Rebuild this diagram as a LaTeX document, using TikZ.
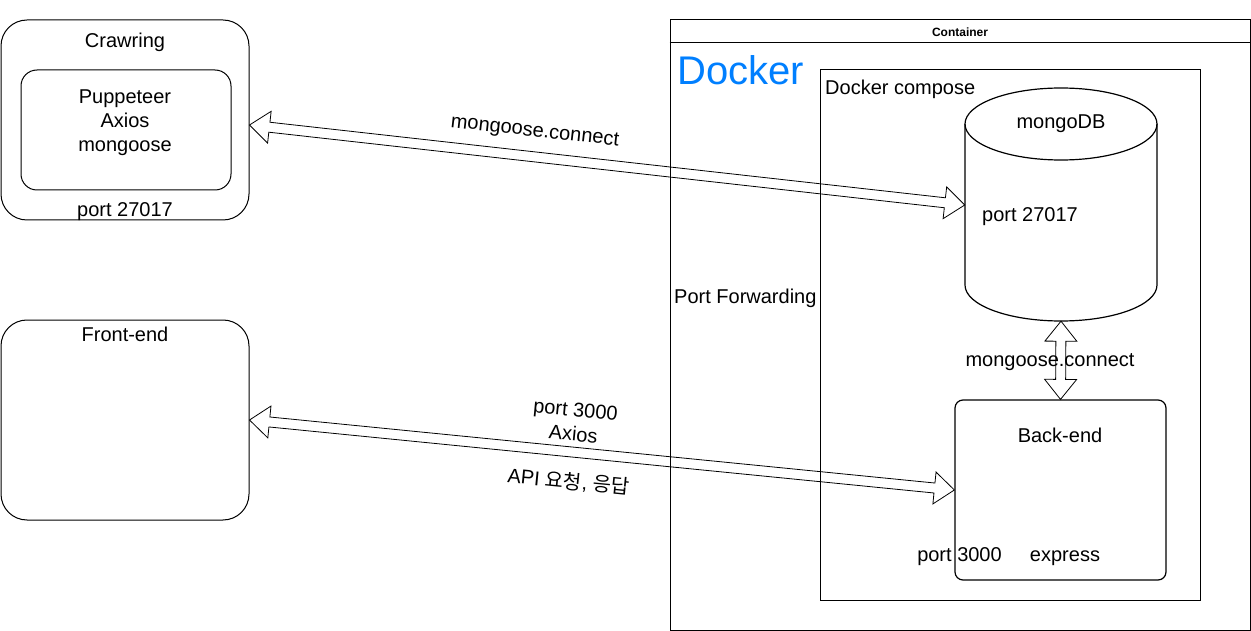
\documentclass[tikz,border=0pt]{standalone}
\usepackage{fontspec}
\setmainfont{Liberation Sans}
\newfontfamily\krfont{Noto Sans CJK KR}
\usetikzlibrary{calc}
\definecolor{dockerblue}{RGB}{0,127,255}
\makeatletter
% flexible double arrow drawn between two named coordinates
\newcommand\flexarrow[2]{%
  \pgfmathanglebetweenpoints{\pgfpointanchor{#1}{center}}{\pgfpointanchor{#2}{center}}%
  \let\FAang\pgfmathresult
  \pgfpointdiff{\pgfpointanchor{#1}{center}}{\pgfpointanchor{#2}{center}}%
  \pgfgetlastxy{\FAdx}{\FAdy}%
  \pgfmathsetmacro\FAlen{veclen(\FAdx,\FAdy)}%
  \pgfmathsetmacro\FAb{\FAlen-20}%
  \draw[flexline,shift={(#1)},rotate=\FAang]
    (0pt,0pt) -- (20pt,16pt) -- (20pt,5pt) -- (\FAb pt,5pt) -- (\FAb pt,16pt)
    -- (\FAlen pt,0pt) -- (\FAb pt,-16pt) -- (\FAb pt,-5pt) -- (20pt,-5pt)
    -- (20pt,-16pt) -- cycle;
}
\makeatother
\tikzset{
  txt/.style={inner sep=0pt, font=\fontsize{20}{24}\selectfont, text height=15pt, text depth=4pt},
  mtxt/.style={inner sep=0pt, font=\fontsize{20}{24}\selectfont, align=center},
  rbox/.style={draw, line width=1pt, rounded corners=#1, inner sep=0pt},
  sqbox/.style={draw, line width=1pt, inner sep=0pt},
  flexline/.style={draw, line width=0.8pt, line join=miter},
  cyl/.style={draw, line width=1.2pt},
}
\begin{document}
\begin{tikzpicture}[x=1pt,y=-1pt]
\useasboundingbox (0,0) rectangle (1251,631);

% Crawring
\node[rbox=26pt, minimum width=248pt, minimum height=200pt] (crawl) at (125,120) {};
\node[rbox=16pt, minimum width=210pt, minimum height=120pt] (crawlin) at (126,130) {};
\node[txt] (crawlt) at (125,42) {Crawring};
\node[mtxt] (crawllib) at (125,123) {Puppeteer\\Axios\\mongoose};
\node[txt] (crawlport) at (125,211) {port 27017};

% Front-end
\node[rbox=26pt, minimum width=248pt, minimum height=200pt] (front) at (125,420) {};
\node[txt] (frontt) at (125,336) {Front-end};

% Container
\node[sqbox, minimum width=580pt, minimum height=610pt] (container) at (960,325) {};
\draw[line width=1pt] ([yshift=-23pt]container.north west) -- ([yshift=-23pt]container.north east);
\node[inner sep=0pt, font=\bfseries\fontsize{12}{14}\selectfont] (contt) at (960,32) {Container};
\node[inner sep=0pt, anchor=base west, text=dockerblue, font=\fontsize{40}{48}\selectfont] (dockert) at (677,85) {Docker};
\node[inner sep=0pt, anchor=base west, font=\fontsize{20}{24}\selectfont] (pf) at (674,303) {Port Forwarding};

% Docker compose
\node[sqbox, minimum width=380pt, minimum height=530pt] (compose) at (1010,335) {};
\node[inner sep=0pt, anchor=base west, font=\fontsize{20}{24}\selectfont] (composet) at (825,95) {Docker compose};

% mongoDB cylinder
\node[inner sep=0pt, minimum width=192pt, minimum height=232pt] (mongo) at (1061,205) {};
\draw[cyl] (1061,124) ellipse [x radius=96, y radius=36];
\draw[cyl] (965,124) -- (965,285)
  .. controls (965,305) and (1008,321) .. (1061,321)
  .. controls (1114,321) and (1157,305) .. (1157,285) -- (1157,124);
\node[txt] (mongot) at (1061,123) {mongoDB};
\node[txt] (mongoport) at (1030,216) {port 27017};

% Back-end
\node[rbox=8pt, line width=1.2pt, minimum width=211pt, minimum height=180pt] (back) at (1060.5,490) {};
\node[txt] (backt) at (1060,437) {Back-end};
\node[txt] (backport) at (959.5,556) {port 3000};
\node[txt] (backexp) at (1065,556) {express};

% connector end points
\coordinate (a1) at ([yshift=-5pt]crawl.east);
\coordinate (a2) at (mongo.west);
\coordinate (b1) at (front.east);
\coordinate (b2) at (back.west);
\coordinate (c1) at (mongo.south);
\coordinate (c2) at (back.north);

\flexarrow{a1}{a2}
\flexarrow{b1}{b2}
\flexarrow{c1}{c2}

% connector labels
\node[txt, rotate=-6.4] (lab1) at (535,131) {mongoose.connect};
\node[mtxt, rotate=-5.5] (lab2) at (572,447) {port 3000\\Axios\\[24pt]API {\krfont 요청}, {\krfont 응답}};
\node[txt] (lab3) at (1050,361) {mongoose.connect};
\end{tikzpicture}
\end{document}
